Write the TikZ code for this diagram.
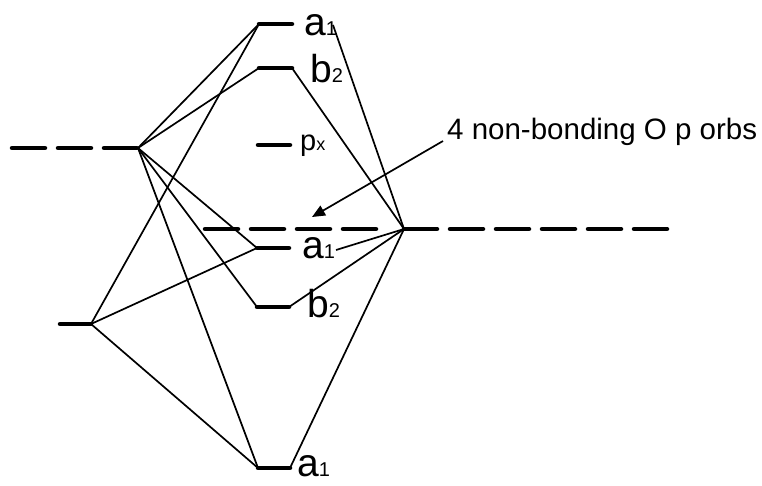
\documentclass[tikz,border=0pt]{standalone}
\usepackage{fontspec}
\setmainfont{Liberation Sans}
\usetikzlibrary{arrows.meta}
\newcommand{\lsub}[1]{{\fontsize{20}{20}\selectfont#1}}
\begin{document}
\begin{tikzpicture}[x=1pt,y=-1pt]
\tikzset{
  lvl/.style={line width=4.5pt,line cap=round},
  lvldash/.style={lvl,dash pattern=on 33pt off 13pt},
  lnk/.style={line width=1.7pt},
  lbl/.style={anchor=base west,inner sep=0pt,text depth=0pt,font=\fontsize{39}{39}\selectfont},
  arr/.style={line width=1.7pt,-{Triangle[length=13pt,width=11pt]}}
}
\useasboundingbox (0,0) rectangle (762,485);
% left side levels
\coordinate (lpA) at (12,148); \coordinate (lp) at (138,148);
\coordinate (lsA) at (60,324); \coordinate (ls) at (91,324);
\draw[lvldash](lpA)--(lp); \draw[lvl](lsA)--(ls);
% O p levels, right side
\coordinate (nbA) at (205,229); \coordinate (nbB) at (378,229);
\coordinate (op) at (404,229); \coordinate (opB) at (668,229);
\draw[lvldash](nbA)--(nbB); \draw[lvldash](op)--(opB);
% molecular levels
\coordinate (a1tL) at (259,24); \coordinate (a1tR) at (292,24);
\coordinate (b2tL) at (259,68); \coordinate (b2tR) at (292,68);
\coordinate (pxL) at (258,145); \coordinate (pxR) at (290,145);
\coordinate (a1mL) at (257,248); \coordinate (a1mR) at (289,248);
\coordinate (b2mL) at (257,307); \coordinate (b2mR) at (289,307);
\coordinate (a1bL) at (258,468); \coordinate (a1bR) at (290,468);
\foreach \m in {a1t,b2t,px,a1m,b2m,a1b}{\draw[lvl](\m L)--(\m R);}
\node(a1tlbl)[lbl] at (304,35){a\lsub{1}};
\node(b2tlbl)[lbl] at (310,82){b\lsub{2}};
\node(pxlbl)[lbl,font=\fontsize{29}{29}\selectfont] at (300,150){p{\fontsize{18}{18}\selectfont x}};
\node(a1mlbl)[lbl] at (302,258){a\lsub{1}};
\node(b2mlbl)[lbl] at (307,317){b\lsub{2}};
\node(a1blbl)[lbl] at (297,476){a\lsub{1}};
\coordinate (a1tE) at (333,25); \coordinate (a1mE) at (336,250);
% connectors
\foreach \m in {a1tL,b2tL,a1mL,b2mL,a1bL}{\draw[lnk](lp)--(\m);}
\foreach \m in {a1tL,a1mL,a1bL}{\draw[lnk](ls)--(\m);}
\foreach \m in {a1tE,b2tR,a1mE,b2mR,a1bR}{\draw[lnk](op)--(\m);}
% label with arrow
\node(nblbl)[anchor=base west,inner sep=0pt,font=\fontsize{29.5}{29.5}\selectfont] at (447,139){4 non-bonding O p orbs};
\coordinate (nbtail) at (443,141);
\coordinate (nbtip) at (312,217);
\draw[arr](nbtail)--(nbtip);
\end{tikzpicture}
\end{document}
